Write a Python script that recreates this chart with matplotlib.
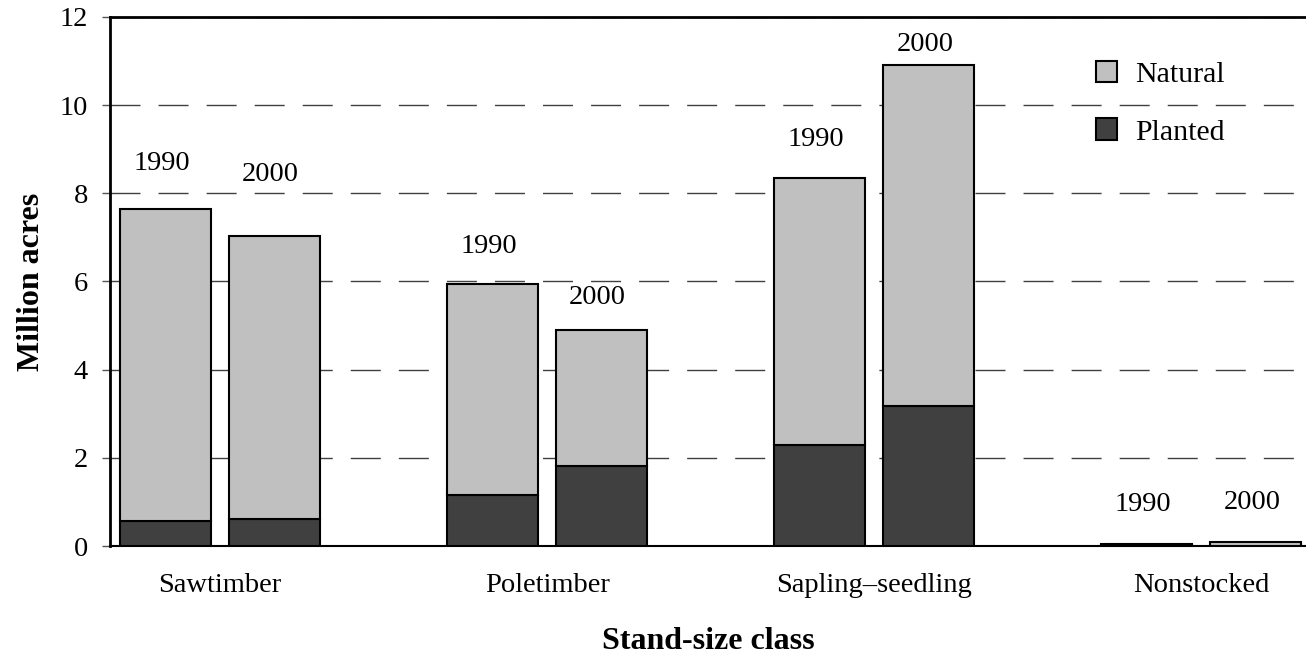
import matplotlib
matplotlib.use('Agg')
import matplotlib.pyplot as plt
import numpy as np

# ---- data ----
categories = ['Sawtimber', 'Poletimber', 'Sapling–seedling', 'Nonstocked']
years = ['1990', '2000']
planted_1990 = [0.57, 1.16, 2.30, 0.02]
natural_1990 = [7.08, 4.78, 6.04, 0.02]
planted_2000 = [0.61, 1.81, 3.17, 0.01]
natural_2000 = [6.43, 3.10, 7.74, 0.08]
yticks = [0, 2, 4, 6, 8, 10, 12]

# ---- style / layout ----
label_offsets_px = [[45, 61], [38, 32], [39, 21], [40, 40]]
c_nat = '#C0C0C0'
c_pla = '#404040'
plt.rcParams['font.family'] = ['Liberation Serif', 'DejaVu Serif']

fig = plt.figure(figsize=(13.06, 6.63), dpi=100)
ax = fig.add_axes([110/1306, 117/663, 1196/1306, 529/663])

x = np.arange(len(categories)) * 3.0
w = 0.835
offs = [-0.5, 0.5]
planted = [planted_1990, planted_2000]
natural = [natural_1990, natural_2000]

for k in range(2):
    xp = x + offs[k]
    ax.bar(xp, planted[k], w, color=c_pla, edgecolor='black', linewidth=1.5, zorder=3,
           label='Planted' if k == 0 else None)
    ax.bar(xp, natural[k], w, bottom=planted[k], color=c_nat, edgecolor='black',
           linewidth=1.5, zorder=3, label='Natural' if k == 0 else None)
    tot = np.array(planted[k]) + np.array(natural[k])
    for i in range(len(categories)):
        ax.annotate(years[k], (xp[i], tot[i]), xytext=(-4, label_offsets_px[i][k]),
                    textcoords='offset pixels', ha='center', va='center', fontsize=20.5)

ax.set_xlim(-1.01, 9.96)
ax.set_ylim(0, 12)
ax.set_yticks(yticks)
ax.set_yticklabels([str(t) for t in yticks], fontsize=20.5)
ax.set_xticks(x)
ax.set_xticklabels(categories, fontsize=20.5)
ax.tick_params(axis='x', length=0, pad=19.5)
ax.tick_params(axis='y', length=6, width=1, color='#555555', pad=10)

ax.yaxis.grid(True, color='#404040', linewidth=1, dashes=(21.6, 13))
ax.set_axisbelow(True)

ax.spines['right'].set_visible(False)
ax.spines['left'].set_linewidth(2)
ax.spines['top'].set_linewidth(2)
ax.spines['bottom'].set_linewidth(1.5)

ax.set_ylabel('Million acres', fontsize=23, fontweight='bold', labelpad=10)
ax.set_xlabel('Stand-size class', fontsize=23, fontweight='bold', labelpad=21)

h, l = ax.get_legend_handles_labels()
order = [l.index('Natural'), l.index('Planted')]
leg = ax.legend([h[i] for i in order], [l[i] for i in order], loc='upper left',
                bbox_to_anchor=(0.824, 0.917), frameon=False, fontsize=21.5,
                handlelength=0.72, handleheight=0.72, handletextpad=0.6,
                labelspacing=1.02, borderpad=0, borderaxespad=0)

fig.savefig('out.png', dpi=100)
